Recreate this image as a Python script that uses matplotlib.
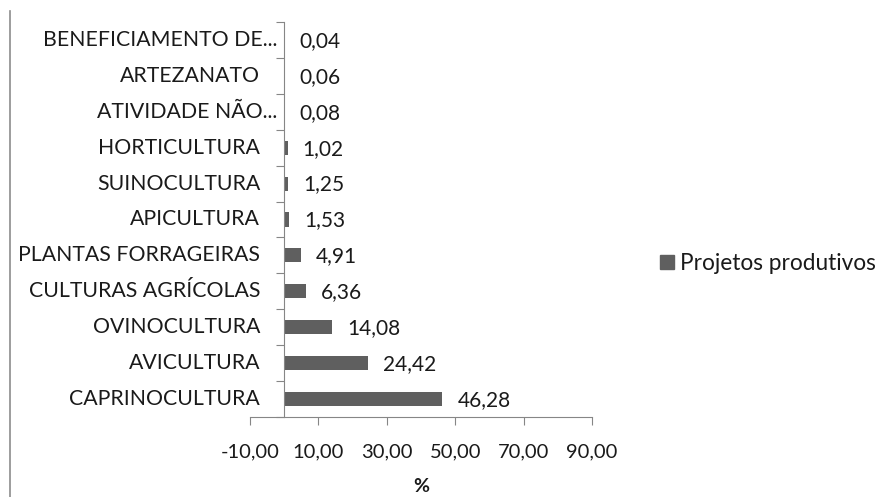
import numpy as np
import matplotlib
matplotlib.use("Agg")
import matplotlib.pyplot as plt
from matplotlib.transforms import ScaledTranslation
from matplotlib.lines import Line2D

# --- DADOS ---
categorias = ["CAPRINOCULTURA", "AVICULTURA", "OVINOCULTURA", "CULTURAS AGRÍCOLAS",
              "PLANTAS FORRAGEIRAS", "APICULTURA", "SUINOCULTURA", "HORTICULTURA",
              "ATIVIDADE NÃO...", "ARTEZANATO", "BENEFICIAMENTO DE..."]
valores = [46.28, 24.42, 14.08, 6.36, 4.91, 1.53, 1.25, 1.02, 0.08, 0.06, 0.04]
ticks_x = [-10, 10, 30, 50, 70, 90]
serie = "Projetos produtivos"

plt.rcParams['font.family'] = ['Lato', 'DejaVu Sans']
cor_texto = '#1a1a1a'
cor_eixo = '#868686'
cor_barra = '#5f5f5f'

fig = plt.figure(figsize=(8.93, 4.97), dpi=100)
ax = fig.add_axes([250 / 893, 1 - 417 / 497, (592 - 250) / 893, (417 - 22) / 497])

y = np.arange(len(categorias))
ax.barh(y, valores, height=0.39, color=cor_barra)

ax.set_xlim(-10, 90)
ax.set_ylim(-0.5, len(categorias) - 0.5)

# eixos
for lado in ['top', 'right']:
    ax.spines[lado].set_visible(False)
ax.spines['left'].set_position(('data', 0))
ax.spines['left'].set_color(cor_eixo)
ax.spines['bottom'].set_color(cor_eixo)

ax.set_xticks(ticks_x)
ax.set_xticklabels([f"{t:.2f}".replace('.', ',') for t in ticks_x], fontsize=14.5, color=cor_texto)
ax.tick_params(axis='x', length=6, color=cor_eixo, pad=13)

ax.set_yticks(np.arange(len(categorias) + 1) - 0.5)
ax.set_yticklabels([])
ax.tick_params(axis='y', length=6, color=cor_eixo)

# rótulos das categorias
off_cat = ScaledTranslation(-24 / 100, 0, fig.dpi_scale_trans)
off_cat_trunc = ScaledTranslation(-7 / 100, 0, fig.dpi_scale_trans)
for i, nome in enumerate(categorias):
    off = off_cat_trunc if nome.endswith('...') else off_cat
    ax.text(0, i, nome, ha='right', va='center', fontsize=15.3, color=cor_texto,
            transform=ax.transData + off)

# rótulos dos valores
off_val = ScaledTranslation(15 / 100, -1 / 100, fig.dpi_scale_trans)
for i, v in enumerate(valores):
    ax.text(v, i, f"{v:.2f}".replace('.', ','), ha='left', va='center', fontsize=15,
            color=cor_texto, transform=ax.transData + off_val)

ax.set_xlabel("%", fontsize=14, fontweight='bold', color=cor_texto, labelpad=13)

# legenda
h = Line2D([], [], marker='s', linestyle='none', markersize=9.5, color=cor_barra)
fig.legend([h], [serie], loc='center left', bbox_to_anchor=(660 / 893, 1 - 263 / 497),
           frameon=False, fontsize=16.3, handletextpad=0.3, borderpad=0,
           borderaxespad=0, handlelength=0.6, labelcolor=cor_texto)

# borda esquerda do gráfico
fig.add_artist(Line2D([10 / 893, 10 / 893], [0, 1 - 11 / 497], color='#8c8c8c', lw=1.2,
                      transform=fig.transFigure))

fig.savefig("out.png", dpi=100)
